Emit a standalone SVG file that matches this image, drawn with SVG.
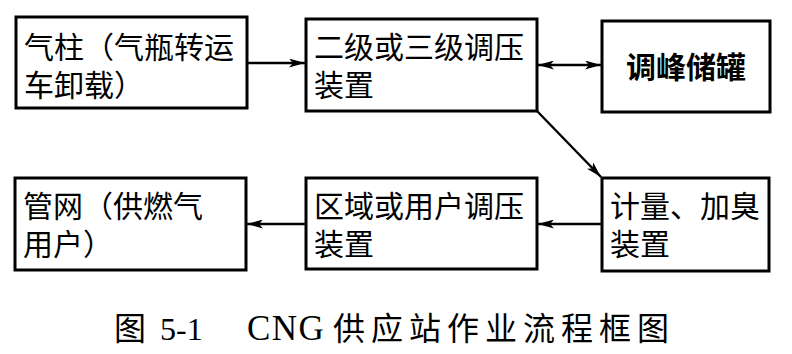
<svg xmlns="http://www.w3.org/2000/svg" width="792" height="354" viewBox="0 0 792 354">
<style>
.box{fill:#fff;stroke:#000;stroke-width:3}
.t{font-family:"Liberation Sans","Noto Sans CJK SC",sans-serif;font-size:30px;fill:#000}
.b{font-weight:bold}
.c{stroke:#000;stroke-width:2.4;fill:none}
.cap{font-family:"Liberation Serif","Noto Sans CJK SC",serif;font-size:32px;fill:#000}
</style>
<defs>
<marker id="ah" viewBox="0 0 16 9" refX="16" refY="4.5" markerWidth="16" markerHeight="9" markerUnits="userSpaceOnUse" orient="auto-start-reverse">
<path d="M0,0 L16,4.5 L0,9 L4,4.5 Z" fill="#000"/>
</marker>
</defs>
<rect width="792" height="354" fill="#fff"/>
<g id="n1"><rect class="box" x="16" y="17" width="231" height="91"/>
<text class="t" x="24" y="58">气柱（气瓶转运</text><text class="t" x="24" y="96">车卸载）</text></g>
<g id="n2"><rect class="box" x="306" y="19" width="231" height="92"/>
<text class="t" x="314" y="58">二级或三级调压</text><text class="t" x="314" y="96">装置</text></g>
<g id="n3"><rect class="box" x="602" y="21" width="168" height="91"/>
<text class="t b" x="686" y="78" text-anchor="middle">调峰储罐</text></g>
<g id="n4"><rect class="box" x="602" y="178" width="167" height="93"/>
<text class="t" x="610" y="217">计量、加臭</text><text class="t" x="610" y="255">装置</text></g>
<g id="n5"><rect class="box" x="306" y="178" width="231" height="91"/>
<text class="t" x="314" y="217">区域或用户调压</text><text class="t" x="314" y="255">装置</text></g>
<g id="n6"><rect class="box" x="15" y="178" width="231" height="92"/>
<text class="t" x="23" y="217">管网（供燃气</text><text class="t" x="23" y="255">用户）</text></g>
<g id="connectors">
<line class="c" x1="247" y1="63" x2="305" y2="63" marker-end="url(#ah)"/>
<line class="c" x1="538" y1="65" x2="601" y2="65" marker-start="url(#ah)" marker-end="url(#ah)"/>
<line class="c" x1="537" y1="111" x2="601" y2="177" marker-end="url(#ah)"/>
<line class="c" x1="602" y1="224" x2="538" y2="224" marker-end="url(#ah)"/>
<line class="c" x1="306" y1="224" x2="247" y2="224" marker-end="url(#ah)"/>
</g>
<text class="cap" y="340"><tspan x="114">图</tspan><tspan x="160">5-1</tspan><tspan x="247" font-size="35" letter-spacing="1.5">CNG</tspan><tspan x="333" letter-spacing="6">供应站作业流程框图</tspan></text>
</svg>
